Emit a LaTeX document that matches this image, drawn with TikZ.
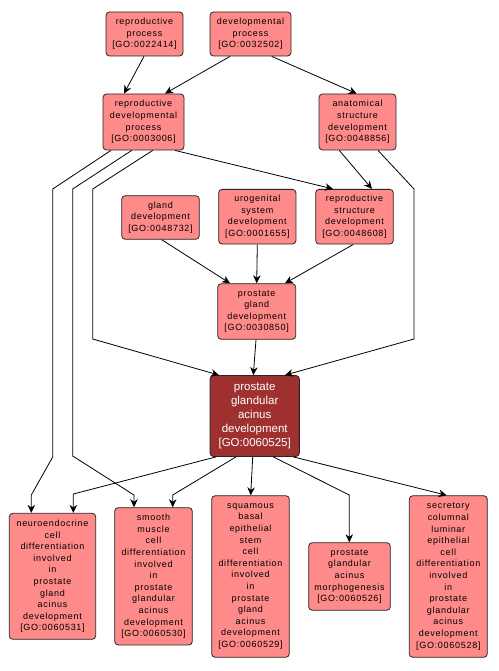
\documentclass[tikz,border=0pt]{standalone}
\usepackage{fontspec}
\usetikzlibrary{arrows.meta}
\newfontfamily\goterm[LetterSpace=8]{Liberation Sans}
\newfontfamily\gofocus{Liberation Sans}
\definecolor{termfill}{RGB}{255,138,138}
\definecolor{focusfill}{RGB}{158,48,48}
\begin{document}
\begin{tikzpicture}[x=1pt, y=-1pt,
  term/.style={draw=black!85, line width=0.8pt, rounded corners=3.5pt, fill=termfill, align=center, inner sep=0pt, font=\goterm\fontsize{9}{11.6}\selectfont},
  focus/.style={term, fill=focusfill, text=white, font=\gofocus\fontsize{11.5}{13.9}\selectfont},
  isa/.style={line width=0.8pt, -{Stealth[length=8pt, width=7.5pt, inset=2.5pt]}}]
\useasboundingbox (0,0) rectangle (498,671);
\node[term, minimum width=77, minimum height=44] (rp) at (144.5,34) {reproductive\\process\\{[GO:0022414]}};
\node[term, minimum width=81, minimum height=44] (dp) at (250.5,34) {developmental\\process\\{[GO:0032502]}};
\node[term, minimum width=81, minimum height=56] (rdp) at (143.5,122) {reproductive\\developmental\\process\\{[GO:0003006]}};
\node[term, minimum width=77, minimum height=56] (asd) at (357.5,122) {anatomical\\structure\\development\\{[GO:0048856]}};
\node[term, minimum width=77.6, minimum height=43.6] (gd) at (160.5,217.5) {gland\\development\\{[GO:0048732]}};
\node[term, minimum width=77.3, minimum height=54.7] (usd) at (257.3,216.7) {urogenital\\system\\development\\{[GO:0001655]}};
\node[term, minimum width=77.6, minimum height=54.7] (rsd) at (354.5,216.7) {reproductive\\structure\\development\\{[GO:0048608]}};
\node[term, minimum width=78, minimum height=55.6] (pgd) at (256.7,311.5) {prostate\\gland\\development\\{[GO:0030850]}};
\node[focus, minimum width=89.3, minimum height=81] (pgad) at (254.7,416) {prostate\\glandular\\acinus\\development\\{[GO:0060525]}};
\node[term, minimum width=86.4, minimum height=126] (nec) at (52.5,576.3) {neuroendocrine\\cell\\differentiation\\involved\\in\\prostate\\gland\\acinus\\development\\{[GO:0060531]}};
\node[term, minimum width=77.6, minimum height=137.3] (smc) at (153.5,576.3) {smooth\\muscle\\cell\\differentiation\\involved\\in\\prostate\\glandular\\acinus\\development\\{[GO:0060530]}};
\node[term, minimum width=77.6, minimum height=161.6] (sbe) at (250.5,576.5) {squamous\\basal\\epithelial\\stem\\cell\\differentiation\\involved\\in\\prostate\\gland\\acinus\\development\\{[GO:0060529]}};
\node[term, minimum width=81.6, minimum height=67.6] (pgam) at (349.5,576.5) {prostate\\glandular\\acinus\\morphogenesis\\{[GO:0060526]}};
\node[term, minimum width=78, minimum height=161.6] (scl) at (448.3,576.5) {secretory\\columnal\\luminar\\epithelial\\cell\\differentiation\\involved\\in\\prostate\\glandular\\acinus\\development\\{[GO:0060528]}};
\draw[isa] (144,0 |- rp.south) -- (124,0 |- rdp.north);
\draw[isa] (230,0 |- dp.south) -- (165,0 |- rdp.north);
\draw[isa] (271.7,0 |- dp.south) -- (356.7,0 |- asd.north);
\draw[isa] (175,0 |- rdp.south) -- (333,0 |- rsd.north);
\draw[isa] (339.3,0 |- asd.south) -- (372,0 |- rsd.north);
\draw[isa] (378,0 |- asd.south) -- (414,189) -- (414,339) -- (285,0 |- pgad.north);
\draw[isa] (152.7,0 |- rdp.south) -- (92.7,189) -- (92.7,339) -- (219,0 |- pgad.north);
\draw[isa] (111,0 |- rdp.south) -- (52.7,189) -- (52.7,457) -- (31.3,495) -- (31.3,0 |- nec.north);
\draw[isa] (131.7,0 |- rdp.south) -- (72.7,189) -- (72.7,456) -- (134,495) -- (134,0 |- smc.north);
\draw[isa] (161.7,0 |- gd.south) -- (230,0 |- pgd.north);
\draw[isa] (257.3,0 |- usd.south) -- (256.7,0 |- pgd.north);
\draw[isa] (353.3,0 |- rsd.south) -- (285,0 |- pgd.north);
\draw[isa] (256,0 |- pgd.south) -- (253.3,0 |- pgad.north);
\draw[isa] (216,0 |- pgad.south) -- (73.3,494) -- (73.3,0 |- nec.north);
\draw[isa] (236,0 |- pgad.south) -- (172.7,495) -- (172.7,0 |- smc.north);
\draw[isa] (252.7,0 |- pgad.south) -- (250.7,0 |- sbe.north);
\draw[isa] (273.3,0 |- pgad.south) -- (349.3,495) -- (349.3,0 |- pgam.north);
\draw[isa] (293.3,0 |- pgad.south) -- (446.7,0 |- scl.north);
\end{tikzpicture}
\end{document}
